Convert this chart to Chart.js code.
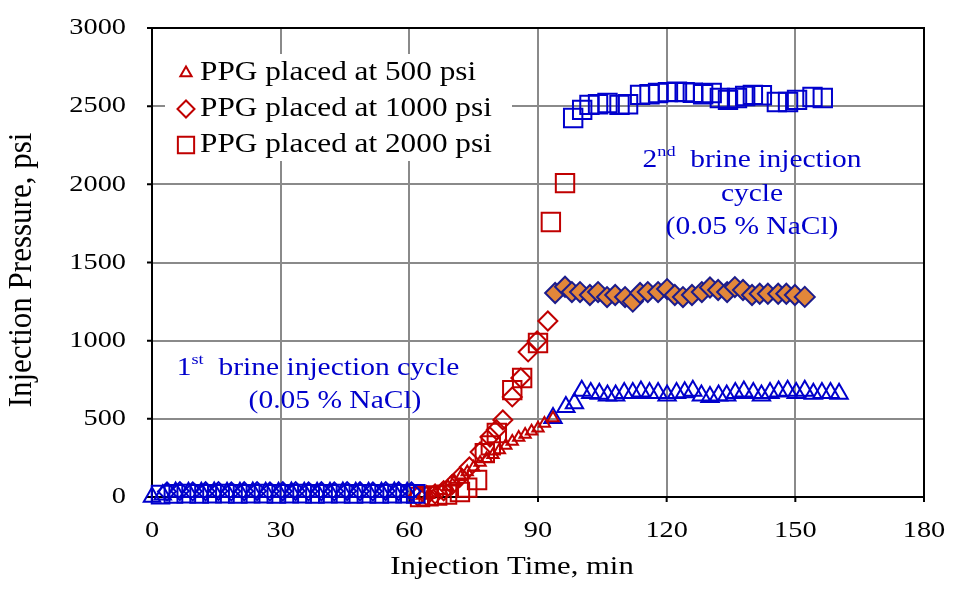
<!DOCTYPE html>
<html>
<head>
<meta charset="utf-8">
<script src="https://cdn.jsdelivr.net/npm/chart.js@4"></script>
<style>
  html, body { margin: 0; padding: 0; background: #fff; }
  #wrap { width: 956px; height: 593px; }
</style>
</head>
<body>
<div id="wrap"><canvas id="chart"></canvas></div>
<script>
/* ================= DATA ================= */
const xTicks = [0, 30, 60, 90, 120, 150, 180];
const yTicks = [0, 500, 1000, 1500, 2000, 2500, 3000];
const legendLabels = ["PPG placed at 500 psi", "PPG placed at 1000 psi", "PPG placed at 2000 psi"];

// 500 psi (triangles)
const t500First = [0, 2.5, 5.5, 8.5, 11.5, 14.5, 17.5, 20.5, 23.5, 26.5, 29.5, 32.5, 35.5, 38.5, 41.5, 44.5, 47.5, 50.5, 53.5, 56.5, 59.5];
const p500First = [0, 15, 32, 30, 31, 32, 30, 31, 32, 30, 31, 32, 30, 31, 30, 32, 31, 30, 31, 32, 30];
const t500Ppg = [63, 64.5, 66, 67.5, 69, 70.5, 72, 73.5, 75, 76.5, 78, 79.5, 81, 82.5, 84, 85.5, 87, 88.5, 90, 91.5, 93.5];
const p500Ppg = [10, 15, 25, 40, 65, 100, 130, 160, 190, 220, 245, 270, 300, 330, 355, 380, 400, 420, 440, 470, 505];
const t500Second = [93.5, 96.5, 98.5, 100.2, 102.3, 104.3, 106.2, 108.1, 110.1, 112.1, 114, 116, 118, 120.1, 122.3, 124.2, 126.1, 128.1, 130.1, 132.1, 134, 136, 138, 140.2, 142.1, 144.1, 146.1, 148.2, 150.2, 152.2, 154.2, 156.2, 158.2, 160.2];
const p500Second = [505, 576, 600, 680, 665, 660, 650, 650, 665, 665, 675, 665, 665, 650, 665, 670, 680, 650, 640, 650, 650, 665, 675, 665, 650, 665, 675, 680, 665, 680, 660, 665, 665, 660];

// 1000 psi (diamonds)
const t1000First = [3.5, 6.5, 9.5, 12.5, 15.5, 18.5, 21.5, 24.5, 27.5, 30.5, 33.5, 36.5, 39.5, 42.5, 45.5, 48.5, 51.5, 54.5, 57.5, 60.5];
const p1000First = [35, 38, 36, 37, 38, 36, 37, 38, 36, 37, 38, 36, 37, 36, 38, 37, 36, 38, 37, 36];
const t1000Ppg = [62, 64, 66, 68, 70, 71.8, 74, 76.5, 78.8, 80.3, 81.8, 84, 86, 87.7, 89.8, 92.3];
const p1000Ppg = [5, 10, 20, 40, 80, 128, 192, 288, 384, 430, 493, 640, 761, 928, 998, 1126];
const t1000Second = [94, 96.3, 97.9, 99.8, 102.1, 104, 106.1, 108, 110.3, 112.1, 113.8, 115.6, 118, 120.1, 121.9, 123.8, 125.9, 128.2, 130.1, 132, 134.1, 135.9, 137.8, 139.9, 141.7, 143.6, 146, 147.9, 149.9, 152.2];
const p1000Second = [1305, 1345, 1311, 1311, 1292, 1311, 1279, 1292, 1279, 1250, 1305, 1311, 1311, 1330, 1292, 1279, 1292, 1311, 1340, 1324, 1311, 1343, 1324, 1292, 1300, 1300, 1300, 1300, 1292, 1280];

// 2000 psi (squares)
const t2000First = [2, 5, 8, 11, 14, 17, 20, 23, 26, 29, 32, 35, 38, 41, 44, 47, 50, 53, 56, 59, 61.5];
const p2000First = [15, 20, 22, 20, 21, 22, 20, 21, 22, 20, 21, 22, 20, 21, 22, 20, 21, 20, 22, 21, 20];
const t2000Ppg = [62.5, 64.5, 66.5, 68.8, 71.8, 73.5, 75.8, 77.6, 79, 80.4, 84, 86.3, 90, 93, 96.3];
const p2000Ppg = [0, 5, 10, 15, 32, 60, 109, 281, 330, 409, 684, 761, 985, 1759, 2008];
const t2000Second = [98.2, 100.3, 102, 104, 106.2, 109, 111, 113.8, 116, 118, 120.3, 122.4, 124.2, 126.1, 128.5, 130.5, 132.4, 134.3, 136.4, 138.3, 140.1, 142.2, 145.7, 148.3, 150.4, 154, 156.4];
const p2000Second = [2424, 2476, 2508, 2512, 2520, 2508, 2512, 2572, 2576, 2584, 2590, 2592, 2590, 2586, 2576, 2584, 2552, 2540, 2552, 2565, 2572, 2570, 2527, 2527, 2540, 2559, 2552];

/* ================= STYLE ================= */
const BLUE = "#0000CC";
const RED = "#C00000";
const ORANGE = "#E2873A";
const NAVY = "#1C1C8C";
const SERIF = "'Liberation Serif', 'Times New Roman', serif";
const SX = 1.18; // reference text is horizontally widened

function pts(ts, ps) {
  return ts.map((t, i) => ({ x: t, y: ps[i] }));
}

function series(ts, ps, style, radius, border, fill) {
  return {
    data: pts(ts, ps),
    pointStyle: style,
    pointRadius: radius,
    pointHoverRadius: radius,
    pointBorderWidth: 2,
    pointBorderColor: border,
    pointBackgroundColor: fill || "rgba(0,0,0,0)",
    showLine: false,
    clip: false
  };
}

const datasets = [
  series(t500First, p500First, "triangle", 9.5, BLUE),
  series(t1000First, p1000First, "rectRot", 9, BLUE),
  series(t2000First, p2000First, "rect", 12.5, BLUE),
  series(t1000Second, p1000Second, "rectRot", 10, NAVY, ORANGE),
  series(t2000Second, p2000Second, "rect", 13, BLUE),
  series(t2000Ppg, p2000Ppg, "rect", 13, RED),
  series(t1000Ppg, p1000Ppg, "rectRot", 9.5, RED),
  series(t500Ppg, p500Ppg, "triangle", 6.5, RED),
  series(t500Second, p500Second, "triangle", 10, BLUE)
];

/* ================= TEXT HELPERS ================= */
function wideText(ctx, txt, x, y, align, size, color) {
  ctx.save();
  ctx.font = size + "px " + SERIF;
  ctx.fillStyle = color;
  ctx.textBaseline = "middle";
  ctx.textAlign = "left";
  const w = ctx.measureText(txt).width * SX;
  const left = align === "center" ? x - w / 2 : align === "right" ? x - w : x;
  ctx.translate(left, y);
  ctx.scale(SX, 1);
  ctx.fillText(txt, 0, 0);
  ctx.restore();
  return w;
}

function textWidth(ctx, txt, size) {
  ctx.save();
  ctx.font = size + "px " + SERIF;
  const w = ctx.measureText(txt).width * SX;
  ctx.restore();
  return w;
}

// "1st brine ..." with a raised suffix
function supText(ctx, num, sup, rest, cx, y, size, color) {
  const w = textWidth(ctx, num, size) + textWidth(ctx, sup, size * 0.62) + textWidth(ctx, rest, size);
  let x = cx - w / 2;
  x += wideText(ctx, num, x, y, "left", size, color);
  x += wideText(ctx, sup, x, y - size * 0.32, "left", size * 0.62, color);
  wideText(ctx, rest, x, y, "left", size, color);
}

/* ================= PLUGINS ================= */
const frame = {
  id: "frame",
  beforeDatasetsDraw(chart) {
    const { ctx, chartArea: a, scales } = chart;
    ctx.save();
    ctx.strokeStyle = "#000";
    ctx.lineWidth = 2;
    ctx.strokeRect(a.left, a.top, a.right - a.left, a.bottom - a.top);
    ctx.beginPath();
    yTicks.forEach(v => {
      const y = scales.y.getPixelForValue(v);
      ctx.moveTo(a.left - 5, y); ctx.lineTo(a.left, y);
    });
    xTicks.forEach(v => {
      const x = scales.x.getPixelForValue(v);
      ctx.moveTo(x, a.bottom); ctx.lineTo(x, a.bottom + 5);
    });
    ctx.stroke();
    ctx.restore();

    // tick labels
    yTicks.forEach(v => wideText(ctx, String(v), a.left - 26, scales.y.getPixelForValue(v), "right", 24, "#000"));
    xTicks.forEach(v => wideText(ctx, String(v), scales.x.getPixelForValue(v), a.bottom + 34, "center", 24, "#000"));

    // axis titles
    wideText(ctx, "Injection Time, min", 512, 567, "center", 26, "#000");
    ctx.save();
    ctx.translate(22, 270);
    ctx.rotate(-Math.PI / 2);
    ctx.scale(1, 1.1);
    ctx.font = "31px " + SERIF;
    ctx.fillStyle = "#000";
    ctx.textAlign = "center";
    ctx.textBaseline = "middle";
    ctx.fillText("Injection Pressure, psi", 0, 0);
    ctx.restore();

    // annotations
    supText(ctx, "1", "st", "  brine injection cycle", 318, 368, 25, BLUE);
    wideText(ctx, "(0.05 % NaCl)", 335, 401, "center", 25, BLUE);
    supText(ctx, "2", "nd", "  brine injection", 752, 160, 25, BLUE);
    wideText(ctx, "cycle", 752, 194, "center", 25, BLUE);
    wideText(ctx, "(0.05 % NaCl)", 752, 227, "center", 25, BLUE);
  },
  afterDatasetsDraw(chart) {
    const { ctx } = chart;
    ctx.save();
    ctx.fillStyle = "#fff";
    ctx.fillRect(165, 54, 347, 107);
    const styles = [["triangle", 6.5], ["rectRot", 8.5], ["rect", 11.5]];
    const ys = [73, 109, 145];
    styles.forEach((s, i) => {
      ctx.strokeStyle = RED;
      ctx.fillStyle = "rgba(0,0,0,0)";
      Chart.helpers.drawPoint(ctx, { pointStyle: s[0], radius: s[1], borderWidth: 2, rotation: 0 }, 186, ys[i]);
      wideText(ctx, legendLabels[i], 200, ys[i], "left", 26.5, "#000");
    });
    ctx.restore();
  }
};

/* ================= CHART ================= */
new Chart(document.getElementById("chart"), {
  type: "scatter",
  data: { datasets },
  options: {
    responsive: true,
    maintainAspectRatio: false,
    animation: false,
    layout: { padding: { left: 152, right: 32, top: 28, bottom: 96 } },
    plugins: { legend: { display: false }, tooltip: { enabled: false } },
    scales: {
      x: {
        min: 0, max: 180,
        ticks: { stepSize: 30, display: false },
        grid: { color: "#8a8a8a", lineWidth: 2, drawTicks: false },
        border: { display: false },
        afterFit(s) { s.height = 0; }
      },
      y: {
        min: 0, max: 3000,
        ticks: { stepSize: 500, display: false },
        grid: { color: "#8a8a8a", lineWidth: 2, drawTicks: false },
        border: { display: false },
        afterFit(s) { s.width = 0; }
      }
    }
  },
  plugins: [frame]
});
</script>
</body>
</html>
